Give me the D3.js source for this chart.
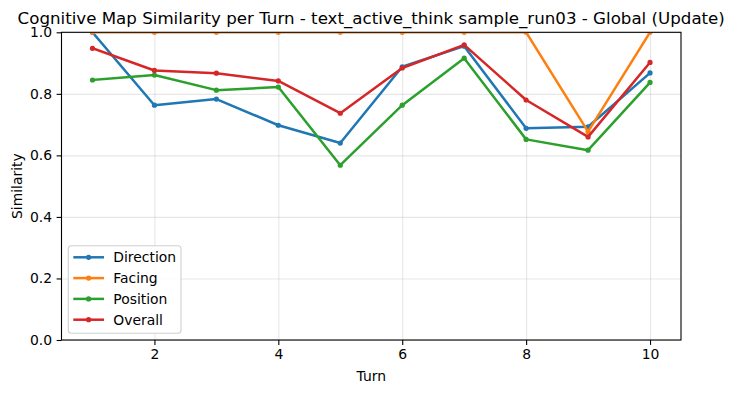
<!DOCTYPE html>
<html>
<head>
<meta charset="utf-8">
<script src="https://cdn.jsdelivr.net/npm/d3@7"></script>
<style>
  body { margin: 0; background: #fff; }
  svg { font-family: "DejaVu Sans", sans-serif; }
  .grid line { stroke: #b0b0b0; stroke-opacity: 0.3; stroke-width: 1.1; }
  .grid .domain { display: none; }
</style>
</head>
<body>
<div id="chart"></div>
<script>
const turns = [1, 2, 3, 4, 5, 6, 7, 8, 9, 10];
const direction = [1.0, 0.763, 0.783, 0.698, 0.640, 0.888, 0.955, 0.688, 0.693, 0.868];
const facing = [1.0, 1.0, 1.0, 1.0, 1.0, 1.0, 1.0, 1.0, 0.677, 1.0];
const position = [0.845, 0.861, 0.812, 0.822, 0.568, 0.763, 0.916, 0.652, 0.617, 0.837];
const overall = [0.948, 0.876, 0.867, 0.842, 0.737, 0.884, 0.959, 0.780, 0.660, 0.902];
const seriesNames = ['Direction', 'Facing', 'Position', 'Overall'];
const seriesColors = ['#1f77b4', '#ff7f0e', '#2ca02c', '#d62728'];
const xTicks = [2, 4, 6, 8, 10];
const yTicks = [0, 0.2, 0.4, 0.6, 0.8, 1.0];

const series = [direction, facing, position, overall].map((vals, i) => ({
  name: seriesNames[i],
  color: seriesColors[i],
  points: turns.map((t, j) => ({ turn: t, value: vals[j] }))
}));

const W = 733, H = 393;
const margin = { top: 32.3, right: 52, bottom: 53, left: 61.5 };
const width = W - margin.left - margin.right;
const height = H - margin.top - margin.bottom;

const svg = d3.select('#chart')
  .append('svg')
  .attr('width', W)
  .attr('height', H);

const chart = svg.append('g')
  .attr('transform', `translate(${margin.left}, ${margin.top})`);

const x = d3.scaleLinear().domain([0.5, 10.5]).range([0, width]);
const y = d3.scaleLinear().domain([0, 1]).range([height, 0]);

// grid
chart.append('g')
  .attr('class', 'grid')
  .attr('transform', `translate(0, ${height})`)
  .call(d3.axisBottom(x).tickValues(xTicks).tickSize(-height).tickFormat(''));
chart.append('g')
  .attr('class', 'grid')
  .call(d3.axisLeft(y).tickValues(yTicks).tickSize(-width).tickFormat(''));

// clip to axes (top edge slightly inside so the 1.0 line hides under the spine)
svg.append('defs').append('clipPath')
  .attr('id', 'clip')
  .append('rect')
  .attr('y', 0.7)
  .attr('width', width)
  .attr('height', height - 0.7);

const plot = chart.append('g').attr('clip-path', 'url(#clip)');

const line = d3.line()
  .x(d => x(d.turn))
  .y(d => y(d.value));

series.forEach(s => {
  const g = plot.append('g');
  g.append('path')
    .datum(s.points)
    .attr('fill', 'none')
    .attr('stroke', s.color)
    .attr('stroke-width', 2.5)
    .attr('stroke-linejoin', 'round')
    .attr('stroke-linecap', 'square')
    .attr('d', line);
  g.selectAll('circle')
    .data(s.points)
    .enter()
    .append('circle')
    .attr('cx', d => x(d.turn))
    .attr('cy', d => y(d.value))
    .attr('r', 2.6)
    .attr('fill', s.color);
});

// spines
chart.append('rect')
  .attr('width', width)
  .attr('height', height)
  .attr('fill', 'none')
  .attr('stroke', '#000')
  .attr('stroke-width', 1.1);

// axes
const xAxis = chart.append('g')
  .attr('transform', `translate(0, ${height})`)
  .call(d3.axisBottom(x).tickValues(xTicks).tickSize(4.9).tickPadding(4.5).tickFormat(d3.format('d')));
const yAxis = chart.append('g')
  .call(d3.axisLeft(y).tickValues(yTicks).tickSize(4.9).tickPadding(4.5).tickFormat(d3.format('.1f')));

[xAxis, yAxis].forEach(a => {
  a.select('.domain').remove();
  a.selectAll('.tick line').attr('stroke', '#000').attr('stroke-width', 1.1);
  a.selectAll('.tick text')
    .attr('fill', '#000')
    .style('font-size', '13.9px')
    .style('font-family', '"DejaVu Sans", sans-serif');
});

// labels
svg.append('text')
  .attr('x', margin.left + width / 2)
  .attr('y', 23.5)
  .attr('text-anchor', 'middle')
  .style('font-size', '16.67px')
  .text('Cognitive Map Similarity per Turn - text_active_think sample_run03 - Global (Update)');

svg.append('text')
  .attr('x', margin.left + width / 2)
  .attr('y', 381)
  .attr('text-anchor', 'middle')
  .style('font-size', '13.9px')
  .text('Turn');

svg.append('text')
  .attr('transform', `translate(22, ${margin.top + height / 2}) rotate(-90)`)
  .attr('text-anchor', 'middle')
  .style('font-size', '13.9px')
  .text('Similarity');

// legend
const legend = chart.append('g')
  .attr('transform', `translate(${68.3 - margin.left}, ${245.7 - margin.top})`);

legend.append('rect')
  .attr('width', 112.7)
  .attr('height', 87.6)
  .attr('rx', 3)
  .attr('fill', '#fff')
  .attr('fill-opacity', 0.8)
  .attr('stroke', '#d0d0d0')
  .attr('stroke-width', 1.1);

const items = legend.selectAll('.item')
  .data(series)
  .enter()
  .append('g')
  .attr('transform', (d, i) => `translate(0, ${11.6 + i * 20.8})`);

items.append('line')
  .attr('x1', 5)
  .attr('x2', 35.7)
  .attr('stroke', d => d.color)
  .attr('stroke-width', 2.5);
items.append('circle')
  .attr('cx', 20.3)
  .attr('r', 2.6)
  .attr('fill', d => d.color);
items.append('text')
  .attr('x', 45)
  .attr('dy', '0.35em')
  .style('font-size', '13.9px')
  .text(d => d.name);
</script>
</body>
</html>
